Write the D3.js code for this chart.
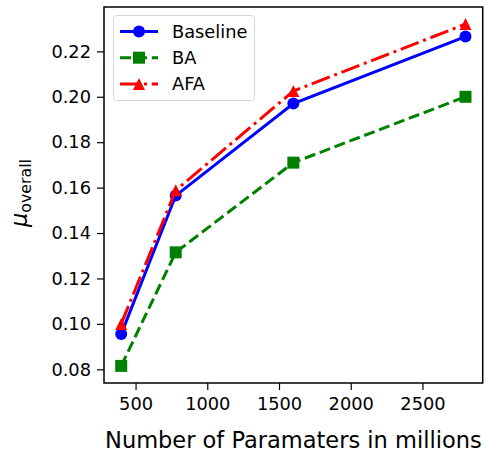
<!DOCTYPE html>
<html>
<head>
<meta charset="utf-8">
<script src="https://cdn.jsdelivr.net/npm/d3@7"></script>
<style>
  body { margin: 0; background: #fff; }
  text { font-family: "DejaVu Sans", sans-serif; }
</style>
</head>
<body>
<script>
// values
let params = [400, 780, 1600, 2800]
let baseline = [0.0955, 0.1565, 0.197, 0.2265]
let ba = [0.0815, 0.1315, 0.171, 0.2]
let afa = [0.1, 0.1588, 0.2025, 0.232]
let xTicks = [500, 1000, 1500, 2000, 2500]
let yTicks = [0.08, 0.10, 0.12, 0.14, 0.16, 0.18, 0.20, 0.22]

let series = [
    {name: 'Baseline', values: baseline, color: 'blue', dash: null, marker: 'circle'},
    {name: 'BA', values: ba, color: 'green', dash: '11.1,4.8', marker: 'square'},
    {name: 'AFA', values: afa, color: 'red', dash: '19.2,4.8,3,4.8', marker: 'triangle'}
]

function main(){
    let width = 486, height = 453
    let left = 104, right = 482.7, top = 7, bottom = 383
    let lw = 3

    let svg = d3.select('body').append('svg')
        .attr('width', width)
        .attr('height', height)

    // matplotlib style 5% margins
    let xPad = (d3.max(params) - d3.min(params)) * 0.05
    let allY = baseline.concat(ba, afa)
    let yPad = (d3.max(allY) - d3.min(allY)) * 0.05

    let x = d3.scaleLinear()
        .domain([d3.min(params) - xPad, d3.max(params) + xPad])
        .range([left, right])
    let y = d3.scaleLinear()
        .domain([d3.min(allY) - yPad, d3.max(allY) + yPad])
        .range([bottom, top])

    let xAxis = svg.append('g')
        .attr('transform', 'translate(0,' + bottom + ')')
        .call(d3.axisBottom(x).tickValues(xTicks).tickSize(7).tickPadding(7).tickFormat(d3.format('d')))
    let yAxis = svg.append('g')
        .attr('transform', 'translate(' + left + ',0)')
        .call(d3.axisLeft(y).tickValues(yTicks).tickSize(7).tickPadding(6).tickFormat(d3.format('.2f')))

    for (let ax of [xAxis, yAxis]) {
        ax.select('.domain').remove()
        ax.selectAll('line').attr('stroke', 'black').attr('stroke-width', 1.2)
        ax.selectAll('text').attr('font-size', 17.8).attr('fill', 'black')
            .style('font-family', '"DejaVu Sans", sans-serif')
    }

    // frame
    svg.append('rect')
        .attr('x', left).attr('y', top)
        .attr('width', right - left).attr('height', bottom - top)
        .attr('fill', 'none').attr('stroke', 'black').attr('stroke-width', 1.5)

    let line = d3.line()
        .x((d, i) => x(params[i]))
        .y(d => y(d))

    function drawMarker(g, type, color, cx, cy) {
        let h = 6   // half marker size
        if (type == 'circle') {
            g.append('circle').attr('cx', cx).attr('cy', cy).attr('r', h).attr('fill', color)
        } else if (type == 'square') {
            g.append('rect').attr('x', cx - h).attr('y', cy - h).attr('width', 2 * h).attr('height', 2 * h).attr('fill', color)
        } else {
            g.append('path')
                .attr('d', 'M0,' + (-h) + 'L' + h + ',' + h + 'L' + (-h) + ',' + h + 'Z')
                .attr('transform', 'translate(' + cx + ',' + cy + ')')
                .attr('fill', color)
        }
    }

    series.forEach(function(s){
        let g = svg.append('g')
        g.append('path')
            .datum(s.values)
            .attr('d', line)
            .attr('fill', 'none')
            .attr('stroke', s.color)
            .attr('stroke-width', lw)
            .attr('stroke-dasharray', s.dash)
        s.values.forEach(function(v, i){
            drawMarker(g, s.marker, s.color, x(params[i]), y(v))
        })
    })

    // legend
    let lg = svg.append('g')
    lg.append('rect')
        .attr('x', 113.5).attr('y', 15.5).attr('width', 141).attr('height', 85)
        .attr('rx', 3).attr('fill', 'white').attr('fill-opacity', 0.8)
        .attr('stroke', '#d6d6d6').attr('stroke-width', 1)
    series.forEach(function(s, i){
        let ly = 31.5 + i * 26.2
        lg.append('line')
            .attr('x1', 120).attr('x2', 158).attr('y1', ly).attr('y2', ly)
            .attr('stroke', s.color).attr('stroke-width', lw)
            .attr('stroke-dasharray', s.dash)
        drawMarker(lg, s.marker, s.color, 139, ly)
        lg.append('text')
            .attr('x', 172).attr('y', ly).attr('dy', '0.36em')
            .attr('font-size', 17.8)
            .text(s.name)
    })

    // axis labels
    svg.append('text')
        .attr('x', (left + right) / 2).attr('y', 448)
        .attr('text-anchor', 'middle')
        .attr('font-size', 22.5)
        .text('Number of Paramaters in millions')

    let yl = svg.append('text')
        .attr('transform', 'translate(27,' + 193 + ') rotate(-90)')
        .attr('text-anchor', 'middle')
        .attr('font-size', 22.5)
    yl.append('tspan').attr('font-style', 'italic').text('μ')
    yl.append('tspan').attr('font-size', 15.8).attr('dy', 4).text('overall')
}

main()
</script>
</body>
</html>
